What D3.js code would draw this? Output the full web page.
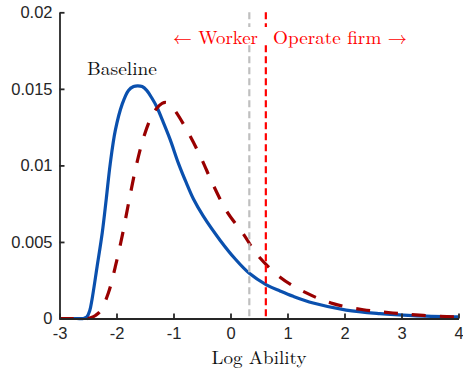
<!DOCTYPE html>
<html>
<head>
<meta charset="utf-8">
<script src="https://cdn.jsdelivr.net/npm/d3@7"></script>
<style>
  html, body { margin: 0; padding: 0; background: #ffffff; }
  svg { display: block; }
</style>
</head>
<body>
<svg id="chart" width="463" height="368"></svg>
<script>
// ---- data ----
const baselineX = [-3.0, -2.7, -2.58, -2.52, -2.47, -2.43, -2.34, -2.25, -2.18, -2.11, -2.02, -1.90, -1.79, -1.70, -1.63, -1.55, -1.47, -1.38, -1.29, -1.20, -1.06, -0.91, -0.78, -0.65, -0.48, -0.18, 0.08, 0.33, 0.63, 0.87, 1.10, 1.45, 2.03, 2.62, 3.20, 4.0];
const baselineY = [0, 0, 0, 0.0001, 0.0005, 0.00123, 0.0034, 0.0056, 0.0078, 0.0101, 0.0123, 0.0140, 0.0149, 0.01515, 0.0152, 0.01515, 0.0149, 0.0144, 0.0138, 0.0130, 0.0117, 0.0101, 0.0089, 0.0078, 0.0067, 0.0051, 0.0039, 0.00295, 0.0022, 0.0018, 0.00145, 0.00101, 0.00055, 0.00032, 0.00019, 0.0001];

const altX = [-3.0, -2.7, -2.5, -2.44, -2.37, -2.28, -2.14, -2.02, -1.90, -1.79, -1.67, -1.55, -1.41, -1.30, -1.20, -1.12, -1.0, -0.765, -0.53, -0.30, -0.065, 0.23, 0.46, 0.87, 1.33, 1.80, 2.33, 2.85, 3.38, 4.0];
const altY = [0, 0, 0, 0.00006, 0.0002, 0.0005, 0.0017, 0.0034, 0.0054, 0.0075, 0.0097, 0.0115, 0.0130, 0.0137, 0.01405, 0.0141, 0.0137, 0.0123, 0.0106, 0.0087, 0.0070, 0.0055, 0.0042, 0.0027, 0.00167, 0.00097, 0.00057, 0.00036, 0.0002, 0.0001];

const xTicks = [-3, -2, -1, 0, 1, 2, 3, 4];
const xTickLabels = ["-3", "-2", "-1", "0", "1", "2", "3", "4"];
const yTicks = [0, 0.005, 0.01, 0.015, 0.02];
const yTickLabels = ["0", "0.005", "0.01", "0.015", "0.02"];

const cutoffBaseline = 0.33;   // grey dashed
const cutoffAlt = 0.62;        // red dashed

const xLabel = "Log Ability";
const seriesLabel = "Baseline";
const leftNote = "\u2190 Worker";
const rightNote = "Operate firm \u2192";

// ---- layout ----
const svg = d3.select("#chart");
const x = d3.scaleLinear().domain([-3, 4]).range([59.5, 458.5]);
const y = d3.scaleLinear().domain([0, 0.02]).range([318.5, 12.3]);

const axisColor = "#262626";
const sans = "'Liberation Sans', Arial, Helvetica, sans-serif";
const serif = "'Latin Modern Roman', 'CMU Serif', 'Liberation Serif', 'DejaVu Serif', serif";

const line = d3.line().x(d => x(d[0])).y(d => y(Math.max(0, d[1]))).curve(d3.curveCatmullRom.alpha(0.5));

// baseline curve (blue solid)
svg.append("path")
  .datum(baselineX.map((v, i) => [v, baselineY[i]]))
  .attr("d", line)
  .attr("fill", "none")
  .attr("stroke", "#0a50ae")
  .attr("stroke-width", 3.2)
  .attr("stroke-linejoin", "round");

// alternative curve (dark red dashed)
svg.append("path")
  .datum(altX.map((v, i) => [v, altY[i]]))
  .attr("d", line)
  .attr("fill", "none")
  .attr("stroke", "#990000")
  .attr("stroke-width", 3.2)
  .attr("stroke-dasharray", "14,14");

// cutoff lines
svg.append("line")
  .attr("x1", x(cutoffBaseline)).attr("x2", x(cutoffBaseline))
  .attr("y1", y(0.02)).attr("y2", y(0))
  .attr("stroke", "#bfbfbf").attr("stroke-width", 2.2)
  .attr("stroke-dasharray", "7,4");
svg.append("line")
  .attr("x1", x(cutoffAlt)).attr("x2", x(cutoffAlt))
  .attr("y1", y(0.02)).attr("y2", y(0))
  .attr("stroke", "#ff0000").attr("stroke-width", 2.2)
  .attr("stroke-dasharray", "7,4");

// axes
const xAxis = d3.axisBottom(x).tickValues(xTicks)
  .tickFormat((d, i) => xTickLabels[i]).tickSizeInner(-5).tickSizeOuter(0).tickPadding(9);
const yAxis = d3.axisLeft(y).tickValues(yTicks)
  .tickFormat((d, i) => yTickLabels[i]).tickSizeInner(-5).tickSizeOuter(0).tickPadding(7);

const gx = svg.append("g").attr("transform", `translate(0,${y(0)})`).call(xAxis);
const gy = svg.append("g").attr("transform", `translate(${x(-3)},0)`).call(yAxis);
[gx, gy].forEach(g => {
  g.select(".domain").attr("stroke", axisColor).attr("stroke-width", 1.8);
  g.selectAll(".tick line").attr("stroke", axisColor).attr("stroke-width", 1.8);
  g.selectAll(".tick text").attr("fill", axisColor)
    .style("font-family", sans).style("font-size", "16.5px");
});
gx.selectAll(".tick text").attr("dy", "0.71em");

// annotation box
svg.append("rect")
  .attr("x", 168).attr("y", 27).attr("width", 244).attr("height", 18)
  .attr("fill", "#ffffff");
svg.append("text")
  .attr("x", 258).attr("y", 44)
  .attr("text-anchor", "end")
  .attr("fill", "#ff0000")
  .style("font-family", serif).style("font-size", "18px")
  .attr("textLength", 85).attr("lengthAdjust", "spacingAndGlyphs")
  .text(leftNote);
svg.append("text")
  .attr("x", 273).attr("y", 44)
  .attr("text-anchor", "start")
  .attr("fill", "#ff0000")
  .style("font-family", serif).style("font-size", "18px")
  .attr("textLength", 134).attr("lengthAdjust", "spacingAndGlyphs")
  .text(rightNote);

// series label
svg.append("text")
  .attr("x", 87).attr("y", 75)
  .attr("fill", "#111111")
  .style("font-family", serif).style("font-size", "18px")
  .attr("textLength", 70).attr("lengthAdjust", "spacingAndGlyphs")
  .text(seriesLabel);

// x label
svg.append("text")
  .attr("x", 259).attr("y", 364)
  .attr("text-anchor", "middle")
  .attr("fill", "#111111")
  .style("font-family", serif).style("font-size", "18px")
  .attr("textLength", 95).attr("lengthAdjust", "spacingAndGlyphs")
  .text(xLabel);
</script>
</body>
</html>
